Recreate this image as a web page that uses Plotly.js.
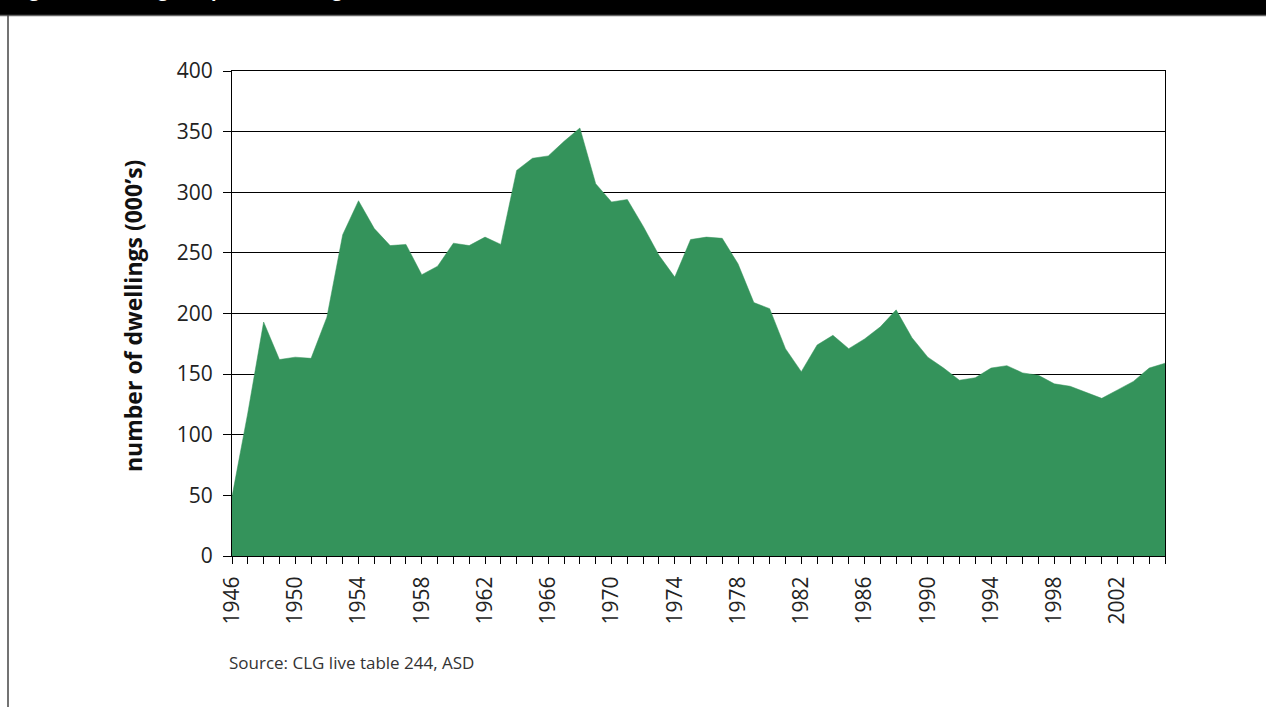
<!DOCTYPE html>
<html>
<head>
<meta charset="utf-8">
<script src="https://cdn.plot.ly/plotly-3.0.1.min.js"></script>
<style>
  html, body { margin: 0; padding: 0; background: #ffffff; }
  #chart { width: 1266px; height: 707px; }
</style>
</head>
<body>
<div id="chart"></div>
<script>
// ---- data ----
var years = [1946,1947,1948,1949,1950,1951,1952,1953,1954,1955,
             1956,1957,1958,1959,1960,1961,1962,1963,1964,1965,
             1966,1967,1968,1969,1970,1971,1972,1973,1974,1975,
             1976,1977,1978,1979,1980,1981,1982,1983,1984,1985,
             1986,1987,1988,1989,1990,1991,1992,1993,1994,1995,
             1996,1997,1998,1999,2000,2001,2002,2003,2004,2005];
var dwellings = [49,118,193,162,164,163,197,265,293,270,
                 256,257,232,239,258,256,263,257,318,328,
                 330,342,353,307,292,294,272,248,230,261,
                 263,262,241,209,204,171,152,174,182,171,
                 179,189,203,180,164,155,145,147,155,157,
                 151,149,142,140,135,130,137,144,155,159];
var tickLabels = ["1946","1950","1954","1958","1962","1966","1970","1974",
                  "1978","1982","1986","1990","1994","1998","2002"];
var yTicks = [0,50,100,150,200,250,300,350,400];
var yTitle = "number of dwellings (000\u2019s)";
var sourceText = "Source: CLG live table 244, ASD";
var figTitle = "Figure 1: Housing completions in England, 1946 to 2005";

// ---- build ticks ----
var tickText = years.map(function (y) {
  return tickLabels.indexOf(String(y)) >= 0 ? String(y) : "";
});

var W = 1266, H = 707;
var L = 232, R = 1165, T = 71, B = 556;
function px2x(p) { return (p - L) / (R - L); }
function py2y(p) { return (B - p) / (B - T); }

var trace = {
  x: years,
  y: dwellings,
  type: "scatter",
  mode: "lines",
  fill: "tozeroy",
  fillcolor: "#34935B",
  line: { color: "#34935B", width: 0.5 },
  hoverinfo: "x+y"
};

var layout = {
  width: W, height: H,
  margin: { l: L, r: W - R, t: T, b: H - B, pad: 0 },
  paper_bgcolor: "#ffffff",
  plot_bgcolor: "#ffffff",
  showlegend: false,
  font: { family: "Open Sans, Noto Sans, sans-serif", color: "#222222" },
  xaxis: {
    range: [1946, 2005],
    tickmode: "array",
    tickvals: years,
    ticktext: tickText,
    tickangle: -90,
    ticks: "outside",
    ticklen: 7,
    tickcolor: "#000000",
    tickwidth: 1,
    tickfont: { size: 21, color: "#222222" },
    showgrid: false,
    zeroline: false,
    showline: true,
    linecolor: "#000000",
    linewidth: 1,
    mirror: true,
    ticklabelstandoff: 4
  },
  yaxis: {
    range: [0, 400],
    tickmode: "array",
    tickvals: yTicks,
    ticks: "outside",
    ticklen: 8,
    tickcolor: "#000000",
    tickwidth: 1,
    tickfont: { size: 21, color: "#222222" },
    showgrid: true,
    gridcolor: "#000000",
    gridwidth: 1,
    zeroline: false,
    showline: true,
    linecolor: "#000000",
    linewidth: 1,
    mirror: true,
    ticklabelstandoff: 6
  },
  shapes: [
    { type: "rect", xref: "paper", yref: "paper",
      x0: px2x(0), x1: px2x(W), y0: py2y(15), y1: py2y(0),
      fillcolor: "#000000", line: { width: 0 }, layer: "below" },
    { type: "line", xref: "paper", yref: "paper",
      x0: px2x(0), x1: px2x(W), y0: py2y(15.5), y1: py2y(15.5),
      line: { color: "#666666", width: 1.5 } },
    { type: "line", xref: "paper", yref: "paper",
      x0: px2x(8), x1: px2x(8), y0: py2y(15), y1: py2y(H),
      line: { color: "#444444", width: 1.5 } }
  ],
  annotations: [
    { text: "<b>" + yTitle + "</b>", xref: "paper", yref: "paper",
      x: px2x(133), y: py2y(316), xanchor: "center", yanchor: "middle",
      textangle: -90, showarrow: false,
      font: { size: 23, color: "#111111", family: "Open Sans, Noto Sans, sans-serif" } },
    { text: sourceText, xref: "paper", yref: "paper",
      x: px2x(227), y: py2y(662), xanchor: "left", yanchor: "middle",
      showarrow: false,
      font: { size: 17, color: "#333333", family: "Open Sans, Noto Sans, sans-serif" } },
    { text: "<b>" + figTitle + "</b>", xref: "paper", yref: "paper",
      x: px2x(12), y: py2y(4), xanchor: "left", yanchor: "bottom",
      showarrow: false,
      font: { size: 18, color: "#ffffff", family: "Open Sans, Noto Sans, sans-serif" } }
  ]
};

Plotly.newPlot("chart", [trace], layout, { displayModeBar: false, staticPlot: true });
</script>
</body>
</html>
